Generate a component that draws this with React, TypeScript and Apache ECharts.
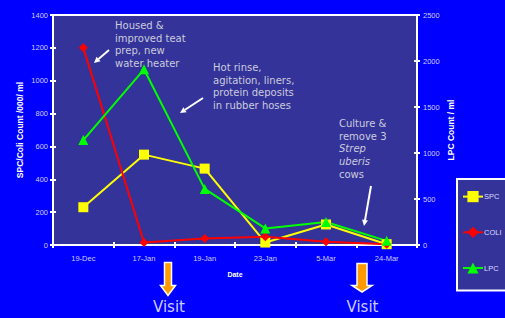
import React, { useEffect, useRef } from "react";
import * as echarts from "echarts";

const categories = ["19-Dec", "17-Jan", "19-Jan", "23-Jan", "5-Mar", "24-Mar"];
const spcValues = [230, 550, 465, 15, 125, 5];
const coliValues = [1200, 15, 40, 50, 20, 5];
const lpcValues = [1140, 1910, 610, 180, 250, 45];

const leftMax = 1400;
const leftInterval = 200;
const rightMax = 2500;
const rightInterval = 500;

const note1 = ["Housed &", "improved teat", "prep, new", "water heater"];
const note2 = ["Hot rinse,", "agitation, liners,", "protein deposits", "in rubber hoses"];
const note3 = ["Culture &", "remove 3", "{i|Strep}", "{i|uberis}", "cows"];

function whiteArrow(x1: number, y1: number, x2: number, y2: number): any[] {
  const dx = x2 - x1;
  const dy = y2 - y1;
  const len = Math.sqrt(dx * dx + dy * dy);
  const ux = dx / len;
  const uy = dy / len;
  const px = -uy;
  const py = ux;
  const hl = 6;
  const hw = 3;
  const bx = x2 - ux * hl;
  const by = y2 - uy * hl;
  return [
    {
      type: "line",
      shape: { x1, y1, x2: bx, y2: by },
      style: { stroke: "#ffffff", lineWidth: 2 },
      z: 50,
    },
    {
      type: "polygon",
      shape: {
        points: [
          [x2, y2],
          [bx + px * hw, by + py * hw],
          [bx - px * hw, by - py * hw],
        ],
      },
      style: { fill: "#ffffff" },
      z: 50,
    },
  ];
}

function orangeArrow(cx: number, top: number, headY: number, tip: number, sw: number, hw: number): any {
  return {
    type: "polygon",
    shape: {
      points: [
        [cx - sw, top],
        [cx + sw, top],
        [cx + sw, headY],
        [cx + hw, headY],
        [cx, tip],
        [cx - hw, headY],
        [cx - sw, headY],
      ],
    },
    style: { fill: "#FF9900", stroke: "#ffffff", lineWidth: 1.5 },
    z: 50,
  };
}

function note(lines: string[], x: number, y: number): any {
  return {
    type: "text",
    x,
    y,
    style: {
      text: lines.join("\n"),
      fill: "#ccccdd",
      font: "10px 'DejaVu Sans'",
      lineHeight: 12.7,
      rich: {
        i: { fontStyle: "italic", fontSize: 10, fontFamily: "DejaVu Sans", fill: "#ccccdd", lineHeight: 12.7 },
      },
    },
    z: 50,
  };
}

export default function App() {
  const ref = useRef<HTMLDivElement>(null);
  useEffect(() => {
    if (!ref.current) return;
    const chart = echarts.init(ref.current, null, { renderer: "svg" });
    const labelStyle = { color: "#ccccff", fontSize: 7.5, fontFamily: "'Liberation Sans', Arial" };
    const nameStyle = { color: "#ffffff", fontSize: 8.5, fontWeight: "bold" as const, fontFamily: "'Liberation Sans', Arial" };
    const plain = (v: number) => String(v);
    chart.setOption({
      animation: false,
      backgroundColor: "#0000FF",
      grid: {
        left: 53,
        right: 88,
        top: 15,
        bottom: 73,
        show: true,
        backgroundColor: "#333399",
        borderColor: "#ffffff",
        borderWidth: 2,
      },
      xAxis: [
        {
          type: "category",
          data: categories,
          boundaryGap: true,
          position: "bottom",
          axisLine: { lineStyle: { color: "#ffffff", width: 2 } },
          axisTick: { show: true, length: 3, inside: false, lineStyle: { color: "#ffffff", width: 2 } },
          axisLabel: { ...labelStyle, margin: 9 },
          name: "Date",
          nameLocation: "middle",
          nameGap: 26,
          nameMoveOverlap: false,
          nameTextStyle: { ...nameStyle, fontSize: 7 },
          splitLine: { show: false },
        },
        {
          type: "category",
          data: categories,
          boundaryGap: true,
          position: "bottom",
          axisLine: { show: false },
          axisTick: { show: true, length: 3, inside: true, lineStyle: { color: "#ffffff", width: 2 } },
          axisLabel: { show: false },
          splitLine: { show: false },
        },
      ],
      yAxis: [
        {
          type: "value",
          min: 0,
          max: leftMax,
          interval: leftInterval,
          position: "left",
          axisLine: { show: true, lineStyle: { color: "#ffffff", width: 2 } },
          axisTick: { show: true, length: 3, lineStyle: { color: "#ffffff", width: 2 } },
          axisLabel: { ...labelStyle, margin: 5, formatter: plain },
          splitLine: { show: false },
          name: "SPC/Coli Count /000/ ml",
          nameLocation: "middle",
          nameRotate: 90,
          nameGap: 29,
          nameMoveOverlap: false,
          nameTextStyle: nameStyle,
        },
        {
          type: "value",
          min: 0,
          max: rightMax,
          interval: rightInterval,
          position: "right",
          axisLine: { show: true, lineStyle: { color: "#ffffff", width: 2 } },
          axisTick: { show: true, length: 3, lineStyle: { color: "#ffffff", width: 2 } },
          axisLabel: { ...labelStyle, margin: 6, formatter: plain },
          splitLine: { show: false },
          name: "LPC Count / ml",
          nameLocation: "middle",
          nameRotate: 90,
          nameGap: 29,
          nameMoveOverlap: false,
          nameTextStyle: nameStyle,
        },
        {
          type: "value",
          min: 0,
          max: leftMax,
          interval: leftInterval,
          position: "left",
          axisLine: { show: false },
          axisTick: { show: true, length: 3, inside: true, lineStyle: { color: "#ffffff", width: 2 } },
          axisLabel: { show: false },
          splitLine: { show: false },
        },
        {
          type: "value",
          min: 0,
          max: rightMax,
          interval: rightInterval,
          position: "right",
          axisLine: { show: false },
          axisTick: { show: true, length: 3, inside: true, lineStyle: { color: "#ffffff", width: 2 } },
          axisLabel: { show: false },
          splitLine: { show: false },
        },
      ],
      legend: {
        orient: "vertical",
        left: 462,
        top: 191,
        padding: 0,
        itemWidth: 20,
        itemHeight: 14,
        itemGap: 24.5,
        textStyle: { color: "#ddddff", fontSize: 7.5, fontFamily: "'Liberation Sans', Arial", padding: [0, 0, 0, -4] },
        data: ["SPC", "COLI", "LPC"],
        z: 10,
      },
      series: [
        {
          name: "SPC",
          type: "line",
          data: spcValues,
          xAxisIndex: 0,
          yAxisIndex: 0,
          symbol: "rect",
          symbolSize: 10,
          lineStyle: { color: "#FFFF00", width: 2 },
          itemStyle: { color: "#FFFF00" },
        },
        {
          name: "COLI",
          type: "line",
          data: coliValues,
          xAxisIndex: 0,
          yAxisIndex: 0,
          symbol: "diamond",
          symbolSize: 9,
          lineStyle: { color: "#FF0000", width: 2 },
          itemStyle: { color: "#FF0000" },
        },
        {
          name: "LPC",
          type: "line",
          data: lpcValues,
          xAxisIndex: 0,
          yAxisIndex: 1,
          symbol: "triangle",
          symbolSize: 10,
          lineStyle: { color: "#00FF00", width: 2 },
          itemStyle: { color: "#00FF00" },
        },
      ],
      graphic: [
        {
          type: "rect",
          shape: { x: 457, y: 179, width: 70, height: 111.5 },
          style: { fill: "#333399", stroke: "#ffffff", lineWidth: 2 },
          z: 1,
        },
        note(note1, 115, 19),
        note(note2, 213, 61),
        note(note3, 339, 117),
        ...whiteArrow(109, 50, 94, 63),
        ...whiteArrow(203, 98, 180, 113),
        ...whiteArrow(371, 186, 364, 226),
        orangeArrow(168, 262.5, 285.5, 295.5, 3.5, 7.5),
        orangeArrow(362, 263.5, 285.5, 292, 5, 10),
        {
          type: "text",
          x: 169,
          y: 306.5,
          style: { text: "Visit", fill: "#ccccff", font: "15px 'DejaVu Sans'", align: "center", verticalAlign: "middle" },
          z: 50,
        },
        {
          type: "text",
          x: 362.5,
          y: 306.5,
          style: { text: "Visit", fill: "#ccccff", font: "15px 'DejaVu Sans'", align: "center", verticalAlign: "middle" },
          z: 50,
        },
      ],
    });
    return () => chart.dispose();
  }, []);
  return (
    <div
      ref={ref}
      style={{ position: "fixed", left: 0, top: 0, width: 505, height: 318, overflow: "hidden" }}
    />
  );
}
